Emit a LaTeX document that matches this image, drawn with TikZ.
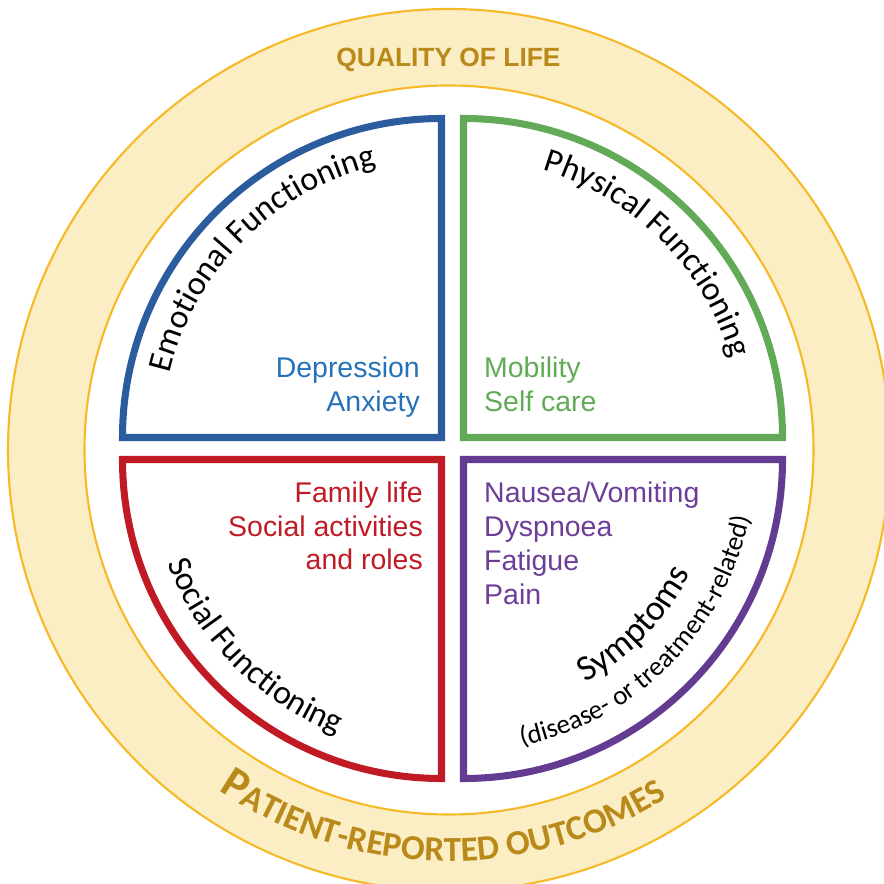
\documentclass[tikz,border=0pt]{standalone}
\usepackage{fontspec}
\setmainfont{Liberation Sans}
\newfontfamily\calibri{Carlito}
\usetikzlibrary{decorations.text}

\definecolor{bandfill}{RGB}{251,237,196}
\definecolor{bandline}{RGB}{246,186,40}
\definecolor{qolgold}{RGB}{185,138,26}
\definecolor{emoblue}{RGB}{43,92,158}
\definecolor{emotext}{RGB}{37,114,184}
\definecolor{phygreen}{RGB}{98,170,87}
\definecolor{socred}{RGB}{192,26,36}
\definecolor{sympurple}{RGB}{99,60,146}
\definecolor{symtext}{RGB}{108,62,152}

\newcommand{\arcfont}{\calibri\fontsize{9.6}{11}\selectfont}

\begin{document}
\begin{tikzpicture}[quad/.style={line width=2pt},
            item/.style={font=\fontsize{8.1}{9}\selectfont, inner sep=0pt},
            curved/.style 2 args={decorate,
               decoration={text along path, text align=center, text={|#1|#2}}}
         ]
      \useasboundingbox (-4.525,-4.355) rectangle (4.305,4.485);

      % quality of life band
      \path[fill=bandfill, draw=bandline, line width=0.6pt, even odd rule]
         (-0.035,-0.015) circle (4.41) (-0.035,-0.015) circle (3.645);
      \node[font=\bfseries\fontsize{7.5}{9}\selectfont, text=qolgold, anchor=base, inner sep=0pt]
         (qol) at (-0.04,3.815) {QUALITY OF LIFE};
      \path[curved={\calibri\bfseries\color{qolgold}\fontsize{12.8}{14}\selectfont}%
         {P|\calibri\bfseries\color{qolgold}\fontsize{10}{12}\selectfont|ATIENT-REPORTED OUTCOMES}]
         (-0.035,-0.015) ++(199:4.11) arc[start angle=199, end angle=339, radius=4.11];

      % quadrant corners
      \coordinate (qe) at (-0.11, 0.11);
      \coordinate (qp) at ( 0.11, 0.11);
      \coordinate (qs) at (-0.11,-0.11);
      \coordinate (qy) at ( 0.11,-0.11);

      \draw[quad, emoblue] (qe) -- ++(0,3.19) arc[start angle=90, end angle=180, radius=3.19] -- cycle;
      \draw[quad, phygreen] (qp) -- ++(0,3.19) arc[start angle=90, end angle=0, radius=3.19] -- cycle;
      \draw[quad, socred] (qs) -- ++(0,-3.19) arc[start angle=270, end angle=180, radius=3.19] -- cycle;
      \draw[quad, sympurple] (qy) -- ++(0,-3.19) arc[start angle=270, end angle=360, radius=3.19] -- cycle;

      % curved headings
      \path[curved={\arcfont}{Emotional Functioning}]
         ([shift={(180:2.79)}]qe) arc[start angle=180, end angle=90, radius=2.79];
      \path[curved={\arcfont}{Physical Functioning}]
         ([shift={(90:2.79)}]qp) arc[start angle=90, end angle=0, radius=2.79];
      \path[curved={\arcfont}{Social Functioning}]
         ([shift={(180:2.93)}]qs) arc[start angle=180, end angle=270, radius=2.93];
      \path[curved={\calibri\fontsize{10.2}{12}\selectfont}{Symptoms}]
         ([shift={(272:2.54)}]qy) arc[start angle=272, end angle=360, radius=2.54];
      \path[curved={\calibri\fontsize{7.7}{9}\selectfont}{(disease- or treatment-related)}]
         ([shift={(270:2.92)}]qy) arc[start angle=270, end angle=360, radius=2.92];

      % items
      \node[item, text=emotext, anchor=base east] (dep) at (-0.32,0.71) {Depression};
      \node[item, text=emotext, anchor=base east] (anx) at (-0.32,0.37) {Anxiety};
      \node[item, text=phygreen, anchor=base west] (mob) at (0.31,0.71) {Mobility};
      \node[item, text=phygreen, anchor=base west] (self) at (0.31,0.37) {Self care};
      \node[item, text=socred, anchor=base east] (fam) at (-0.29,-0.54) {Family life};
      \node[item, text=socred, anchor=base east] (act) at (-0.29,-0.88) {Social activities};
      \node[item, text=socred, anchor=base east] (rol) at (-0.29,-1.21) {and roles};
      \node[item, text=symtext, anchor=base west] (nau) at (0.31,-0.54) {Nausea/Vomiting};
      \node[item, text=symtext, anchor=base west] (dys) at (0.31,-0.88) {Dyspnoea};
      \node[item, text=symtext, anchor=base west] (fat) at (0.31,-1.22) {Fatigue};
      \node[item, text=symtext, anchor=base west] (pain) at (0.31,-1.56) {Pain};
   \end{tikzpicture}
\end{document}
